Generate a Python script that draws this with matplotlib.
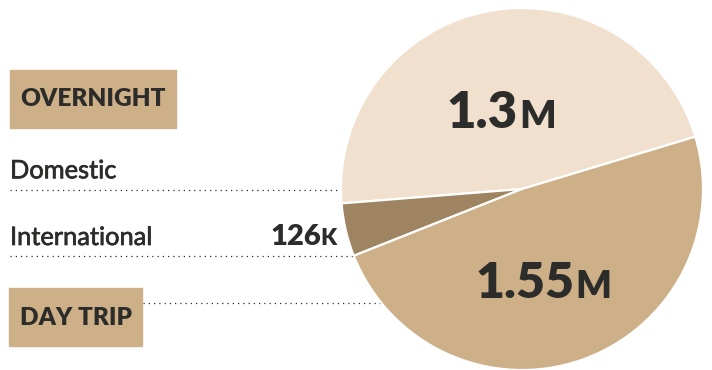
import matplotlib
matplotlib.use("Agg")
import matplotlib.pyplot as plt
import matplotlib.patheffects as pe
from matplotlib.patches import Rectangle

# slice shares (domestic, international, day trip)
segments = ["Domestic", "International", "Day trip"]
shares = [46.6, 4.75, 48.65]
colors = ["#F1E0CE", "#9E8460", "#CDAF88"]

big_nums = ["1.3", "1.55"]
big_units = ["M", "M"]
intl_num, intl_unit = "126", "K"

ink = "#2C2C2A"
tan = "#CDAF88"
plt.rcParams["font.family"] = ["Lato", "DejaVu Sans"]

fig = plt.figure(figsize=(7.12, 3.70), dpi=100)

# overlay in pixel coords for labels and dotted leaders (under the pie)
ov = fig.add_axes([0, 0, 1, 1])
ov.set_xlim(0, 712)
ov.set_ylim(370, 0)
ov.axis("off")

# pie, center ~ (522, 189) px, radius ~181 px
pie_ax = fig.add_axes([(522 - 181) / 712, (370 - 189 - 181) / 370, 362 / 712, 362 / 370])
pie_ax.pie(shares, colors=colors, startangle=16.8, counterclock=True,
           wedgeprops=dict(edgecolor="white", linewidth=1.6))
pie_ax.set_xlim(-1, 1)
pie_ax.set_ylim(-1, 1)
pie_ax.set_aspect("equal")
pie_ax.axis("off")

# top layer for the big values
top = fig.add_axes([0, 0, 1, 1])
top.set_xlim(0, 712)
top.set_ylim(370, 0)
top.axis("off")

# header boxes
ov.add_patch(Rectangle((10, 70), 166, 58, color=tan, zorder=1))
ov.text(93, 99, "OVERNIGHT", ha="center", va="center", fontsize=17.6,
        fontweight="heavy", color=ink, zorder=2)
ov.add_patch(Rectangle((9, 288), 133, 58, color=tan, zorder=1))
ov.text(76, 318, "DAY TRIP", ha="center", va="center", fontsize=17.6,
        fontweight="heavy", color=ink, zorder=2)

# row labels (slightly thickened, Lato regular is lighter than the original face)
thick = [pe.withStroke(linewidth=0.5, foreground=ink)]
ov.text(10, 178.3, segments[0], ha="left", va="baseline", fontsize=18.3,
        color=ink, path_effects=thick)
ov.text(10, 245, segments[1], ha="left", va="baseline", fontsize=18.3,
        color=ink, path_effects=thick)
ov.text(321, 245, intl_num, ha="right", va="baseline", fontsize=21,
        fontweight="heavy", color=ink)
ov.text(320, 245, intl_unit, ha="left", va="baseline", fontsize=16.5,
        fontweight="heavy", color=ink)

# dotted leaders
dots = dict(color=ink, linewidth=0.9, linestyle=(0, (1, 3.2)), zorder=0)
ov.plot([10, 380], [189.5, 189.5], **dots)
ov.plot([10, 380], [255.7, 255.7], **dots)
ov.plot([143, 420], [303.3, 303.3], **dots)

# big values inside the pie
top.text(518, 128.3, big_nums[0], ha="right", va="baseline", fontsize=36.5,
         fontweight="heavy", color=ink)
top.text(519, 128.3, big_units[0], ha="left", va="baseline", fontsize=27.5,
         fontweight="heavy", color=ink)
top.text(574, 298.3, big_nums[1], ha="right", va="baseline", fontsize=36,
         fontweight="heavy", color=ink)
top.text(575, 298.3, big_units[1], ha="left", va="baseline", fontsize=27,
         fontweight="heavy", color=ink)

fig.savefig("out.png", dpi=100)
